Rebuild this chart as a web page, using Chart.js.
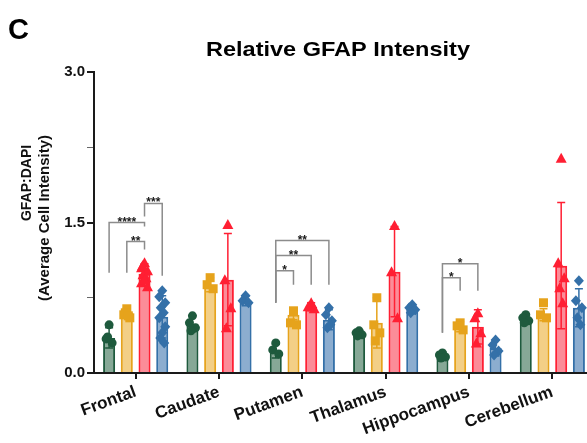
<!DOCTYPE html>
<html>
<head>
<meta charset="utf-8">
<script src="https://cdn.jsdelivr.net/npm/chart.js@4"></script>
<style>
  html, body { margin: 0; padding: 0; background: #fff; overflow: hidden; }
  #wrap { width: 600px; height: 443px; position: relative; }
</style>
</head>
<body>
<div id="wrap"><canvas id="chart"></canvas></div>
<script>
// data
const categories = ['Frontal', 'Caudate', 'Putamen', 'Thalamus', 'Hippocampus', 'Cerebellum'];
const seriesNames = ['Group 1', 'Group 2', 'Group 3', 'Group 4'];

const greenMeans  = [0.35, 0.49, 0.22, 0.40, 0.18, 0.53];
const yellowMeans = [0.60, 0.88, 0.58, 0.50, 0.46, 0.58];
const redMeans    = [0.99, 0.93, 0.66, 1.01, 0.46, 1.07];
const blueMeans   = [0.56, 0.72, 0.53, 0.63, 0.25, 0.65];

const greenSd  = [0.10, 0.08, 0.07, 0.03, 0.03, 0.04];
const yellowSd = [0.05, 0.07, 0.05, 0.25, 0.05, 0.06];
const redSd    = [0.10, 0.46, 0.04, 0.45, 0.17, 0.63];
const blueSd   = [0.21, 0.05, 0.10, 0.04, 0.08, 0.19];

const greenPoints = [
  [0.48, 0.34, 0.30, 0.36],
  [0.57, 0.50, 0.45, 0.42],
  [0.30, 0.23, 0.19],
  [0.42, 0.40, 0.38, 0.37],
  [0.20, 0.18, 0.16, 0.15],
  [0.58, 0.55, 0.52, 0.50]
];
const yellowPoints = [
  [0.64, 0.58, 0.55, 0.60, 0.57],
  [0.95, 0.88, 0.84],
  [0.62, 0.50, 0.48],
  [0.75, 0.48, 0.40, 0.32],
  [0.50, 0.47, 0.43],
  [0.70, 0.58, 0.55]
];
const redPoints = [
  [1.10, 1.05, 1.02, 0.98, 0.95, 0.90, 0.86, 0.93, 1.07],
  [1.48, 0.93, 0.65, 0.45],
  [0.70, 0.66, 0.64],
  [1.47, 1.01, 0.55],
  [0.60, 0.55, 0.40, 0.30],
  [2.14, 1.10, 0.95, 0.85, 0.70]
];
const bluePoints = [
  [0.82, 0.76, 0.70, 0.65, 0.60, 0.55, 0.46, 0.40, 0.35, 0.30],
  [0.77, 0.72, 0.70],
  [0.65, 0.58, 0.52, 0.45, 0.48],
  [0.68, 0.65, 0.63, 0.60],
  [0.33, 0.28, 0.22, 0.18],
  [0.92, 0.72, 0.65, 0.55, 0.48]
];

// significance brackets: [category, fromSeries, toSeries, lineY, leftLegBottom, rightLegBottom, label]
const brackets = [
  [0, 0, 2, 1.50, 1.00, 1.46, '****'],
  [0, 1, 2, 1.31, 1.00, 1.23, '**'],
  [0, 2, 3, 1.69, 1.56, 0.97, '***'],
  [2, 0, 3, 1.32, 0.70, 0.88, '**'],
  [2, 0, 2, 1.17, 0.70, 0.88, '**'],
  [2, 0, 1, 1.02, 0.70, 0.88, '*'],
  [4, 0, 2, 1.09, 0.40, 0.82, '*'],
  [4, 0, 1, 0.95, 0.40, 0.82, '*']
];

const styles = [
  { border: '#1e5a3d', fill: 'rgba(60,115,85,0.62)', marker: 'circle' },
  { border: '#e6a31c', fill: 'rgba(236,178,60,0.62)', marker: 'square' },
  { border: '#ff1f33', fill: 'rgba(248,70,88,0.62)', marker: 'triangle' },
  { border: '#3470a8', fill: 'rgba(70,122,178,0.62)', marker: 'diamond' }
];

const allMeans = [greenMeans, yellowMeans, redMeans, blueMeans];
const allSd = [greenSd, yellowSd, redSd, blueSd];
const allPoints = [greenPoints, yellowPoints, redPoints, bluePoints];
const jitter = [0, -3, 3, -1.5, 1.5, -3, 3, 0, -2, 2];
const FONT = '"Liberation Sans", Arial, sans-serif';

function isMajor(v) {
  const r = v / 1.5;
  return Math.abs(r - Math.round(r)) < 1e-6;
}

function drawMarker(ctx, type, x, y, color) {
  ctx.fillStyle = color;
  ctx.beginPath();
  if (type === 'circle') {
    ctx.arc(x, y, 4.5, 0, Math.PI * 2);
  } else if (type === 'square') {
    ctx.rect(x - 4.5, y - 4.5, 9, 9);
  } else if (type === 'triangle') {
    ctx.moveTo(x, y - 5.5);
    ctx.lineTo(x + 5.5, y + 4.5);
    ctx.lineTo(x - 5.5, y + 4.5);
    ctx.closePath();
  } else {
    ctx.moveTo(x, y - 5.5);
    ctx.lineTo(x + 5, y);
    ctx.lineTo(x, y + 5.5);
    ctx.lineTo(x - 5, y);
    ctx.closePath();
  }
  ctx.fill();
}

function drawRotated(ctx, text, x, y, size) {
  ctx.save();
  ctx.fillStyle = '#111';
  ctx.font = 'bold ' + size + 'px ' + FONT;
  ctx.textAlign = 'center';
  ctx.textBaseline = 'middle';
  ctx.translate(x, y);
  ctx.rotate(-Math.PI / 2);
  ctx.fillText(text, 0, 0);
  ctx.restore();
}

const overlayPlugin = {
  id: 'overlay',
  afterDatasetsDraw(chart) {
    const ctx = chart.ctx;
    const y = chart.scales.y;
    ctx.save();
    // error bars and individual points
    allMeans.forEach((means, s) => {
      const meta = chart.getDatasetMeta(s);
      means.forEach((m, i) => {
        const bx = meta.data[i].x;
        const top = y.getPixelForValue(m + allSd[s][i]);
        const bot = y.getPixelForValue(Math.max(0, m - allSd[s][i]));
        ctx.strokeStyle = styles[s].border;
        ctx.lineWidth = 1.5;
        ctx.beginPath();
        ctx.moveTo(bx, top); ctx.lineTo(bx, bot);
        ctx.moveTo(bx - 4, top); ctx.lineTo(bx + 4, top);
        ctx.moveTo(bx - 4, bot); ctx.lineTo(bx + 4, bot);
        ctx.stroke();
        allPoints[s][i].forEach((v, k) => {
          drawMarker(ctx, styles[s].marker, bx + jitter[k % jitter.length], y.getPixelForValue(v), styles[s].border);
        });
      });
    });
    // brackets
    ctx.strokeStyle = '#8c8c8c';
    ctx.lineWidth = 1.5;
    ctx.fillStyle = '#1a1a1a';
    ctx.font = 'bold 12px ' + FONT;
    ctx.textAlign = 'center';
    ctx.textBaseline = 'alphabetic';
    brackets.forEach(([c, a, b, ly, lb, rb, label]) => {
      const x1 = chart.getDatasetMeta(a).data[c].x;
      const x2 = chart.getDatasetMeta(b).data[c].x;
      const py = y.getPixelForValue(ly);
      ctx.beginPath();
      ctx.moveTo(x1, y.getPixelForValue(lb));
      ctx.lineTo(x1, py);
      ctx.lineTo(x2, py);
      ctx.lineTo(x2, y.getPixelForValue(rb));
      ctx.stroke();
      ctx.fillText(label, (x1 + x2) / 2, py + 3);
    });
    ctx.restore();
  },
  afterDraw(chart) {
    const ctx = chart.ctx;
    ctx.save();
    ctx.fillStyle = '#000';
    ctx.textBaseline = 'alphabetic';
    ctx.textAlign = 'left';
    ctx.font = 'bold 29px ' + FONT;
    ctx.fillText('C', 8, 39);
    // chart title, slightly wide like the source
    ctx.textAlign = 'center';
    ctx.font = 'bold 21px ' + FONT;
    ctx.translate(338, 56);
    ctx.scale(1.12, 1);
    ctx.fillText('Relative GFAP Intensity', 0, 0);
    ctx.restore();
    // y axis title, two lines
    drawRotated(ctx, 'GFAP:DAPI', 27, 183, 14);
    drawRotated(ctx, '(Average Cell Intensity)', 45, 218, 15);
  }
};

new Chart(document.getElementById('chart'), {
  type: 'bar',
  data: {
    labels: categories,
    datasets: seriesNames.map((name, s) => ({
      label: name,
      data: allMeans[s],
      backgroundColor: styles[s].fill,
      borderColor: styles[s].border,
      borderWidth: 2,
      categoryPercentage: 0.85,
      barPercentage: 0.68
    }))
  },
  options: {
    responsive: true,
    maintainAspectRatio: false,
    animation: false,
    layout: { padding: { top: 72, right: 6, left: 0, bottom: 0 } },
    plugins: { legend: { display: false }, tooltip: { enabled: false } },
    scales: {
      x: {
        afterFit(scale) { scale.height = 70; },
        border: { color: '#1a1a1a', width: 2 },
        grid: { display: true, drawOnChartArea: false, offset: false, tickLength: 6, color: '#1a1a1a', lineWidth: 2 },
        ticks: {
          color: '#111',
          font: { family: FONT, size: 17, weight: 'bold' },
          maxRotation: 20, minRotation: 20, padding: 3
        }
      },
      y: {
        min: 0, max: 3,
        afterFit(scale) { scale.width = 94; },
        border: { color: '#1a1a1a', width: 2 },
        grid: {
          display: true, drawOnChartArea: false, tickLength: 7,
          color: (c) => (c.tick && isMajor(c.tick.value)) ? '#1a1a1a' : '#666',
          lineWidth: (c) => (c.tick && isMajor(c.tick.value)) ? 2 : 1
        },
        ticks: {
          stepSize: 0.75,
          color: '#111',
          padding: 2,
          font: { family: FONT, size: 15, weight: 'bold' },
          callback(v) { return isMajor(v) ? v.toFixed(1) : ''; }
        }
      }
    }
  },
  plugins: [overlayPlugin]
});
</script>
</body>
</html>
